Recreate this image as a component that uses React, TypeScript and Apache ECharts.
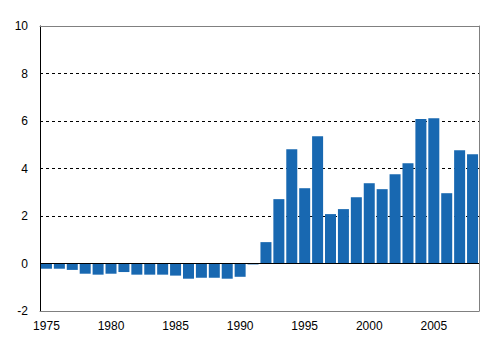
import React, { useEffect, useRef } from "react";
import * as echarts from "echarts";

const years: string[] = [
  "1975","1976","1977","1978","1979","1980","1981","1982","1983","1984",
  "1985","1986","1987","1988","1989","1990","1991","1992","1993","1994",
  "1995","1996","1997","1998","1999","2000","2001","2002","2003","2004",
  "2005","2006","2007","2008",
];
const values: number[] = [
  -0.22, -0.22, -0.27, -0.43, -0.47, -0.43, -0.36, -0.47, -0.47, -0.47,
  -0.51, -0.64, -0.6, -0.6, -0.64, -0.56, -0.04, 0.9, 2.71, 4.81,
  3.17, 5.36, 2.08, 2.29, 2.79, 3.38, 3.13, 3.76, 4.22, 6.08,
  6.12, 2.96, 4.77, 4.6,
];
const yMin = -2;
const yMax = 10;
const yStep = 2;

export default function App() {
  const ref = useRef<HTMLDivElement>(null);
  useEffect(() => {
    if (!ref.current) return;
    const chart = echarts.init(ref.current, null, { renderer: "svg" });
    const font = "'Liberation Sans', Arial, sans-serif";
    chart.setOption({
      animation: false,
      backgroundColor: "#ffffff",
      grid: {
        left: 40,
        right: 16,
        top: 26,
        bottom: 43,
        show: false,
        containLabel: false,
      },
      xAxis: [
        {
          type: "category",
          data: years,
          boundaryGap: true,
          position: "bottom",
          axisLine: { onZero: false, lineStyle: { color: "#808080", width: 1 } },
          axisTick: { show: false },
          axisLabel: {
            interval: 4,
            color: "#000",
            fontSize: 12,
            fontFamily: font,
            margin: 9,
          },
          splitLine: { show: false },
        },
        {
          type: "category",
          data: years,
          position: "top",
          axisLine: { onZero: false, lineStyle: { color: "#808080", width: 1 } },
          axisTick: { show: false },
          axisLabel: { show: false },
          splitLine: { show: false },
        },
      ],
      yAxis: [
        {
          type: "value",
          min: yMin,
          max: yMax,
          interval: yStep,
          position: "left",
          axisLine: { show: true, onZero: false, lineStyle: { color: "#000", width: 1 } },
          axisTick: { show: false },
          axisLabel: {
            color: "#000",
            fontSize: 12,
            fontFamily: font,
            margin: 12,
          },
          splitLine: {
            show: true,
            lineStyle: { color: "#000", type: [3, 3], width: 1 },
          },
        },
        {
          type: "value",
          min: yMin,
          max: yMax,
          interval: yStep,
          position: "right",
          axisLine: { show: true, onZero: false, lineStyle: { color: "#808080", width: 1 } },
          axisTick: { show: false },
          axisLabel: { show: false },
          splitLine: { show: false },
        },
      ],
      series: [
        {
          type: "bar",
          data: values,
          barWidth: 11,
          itemStyle: { color: "#1868b1" },
          markLine: {
            silent: true,
            symbol: ["none", "none"],
            label: { show: false },
            lineStyle: { color: "#000", type: "solid", width: 1 },
            data: [{ yAxis: 0 }],
          },
        },
      ],
    });
    return () => chart.dispose();
  }, []);
  return (
    <div
      ref={ref}
      style={{ position: "fixed", left: 0, top: 0, width: 495, height: 354 }}
    />
  );
}
